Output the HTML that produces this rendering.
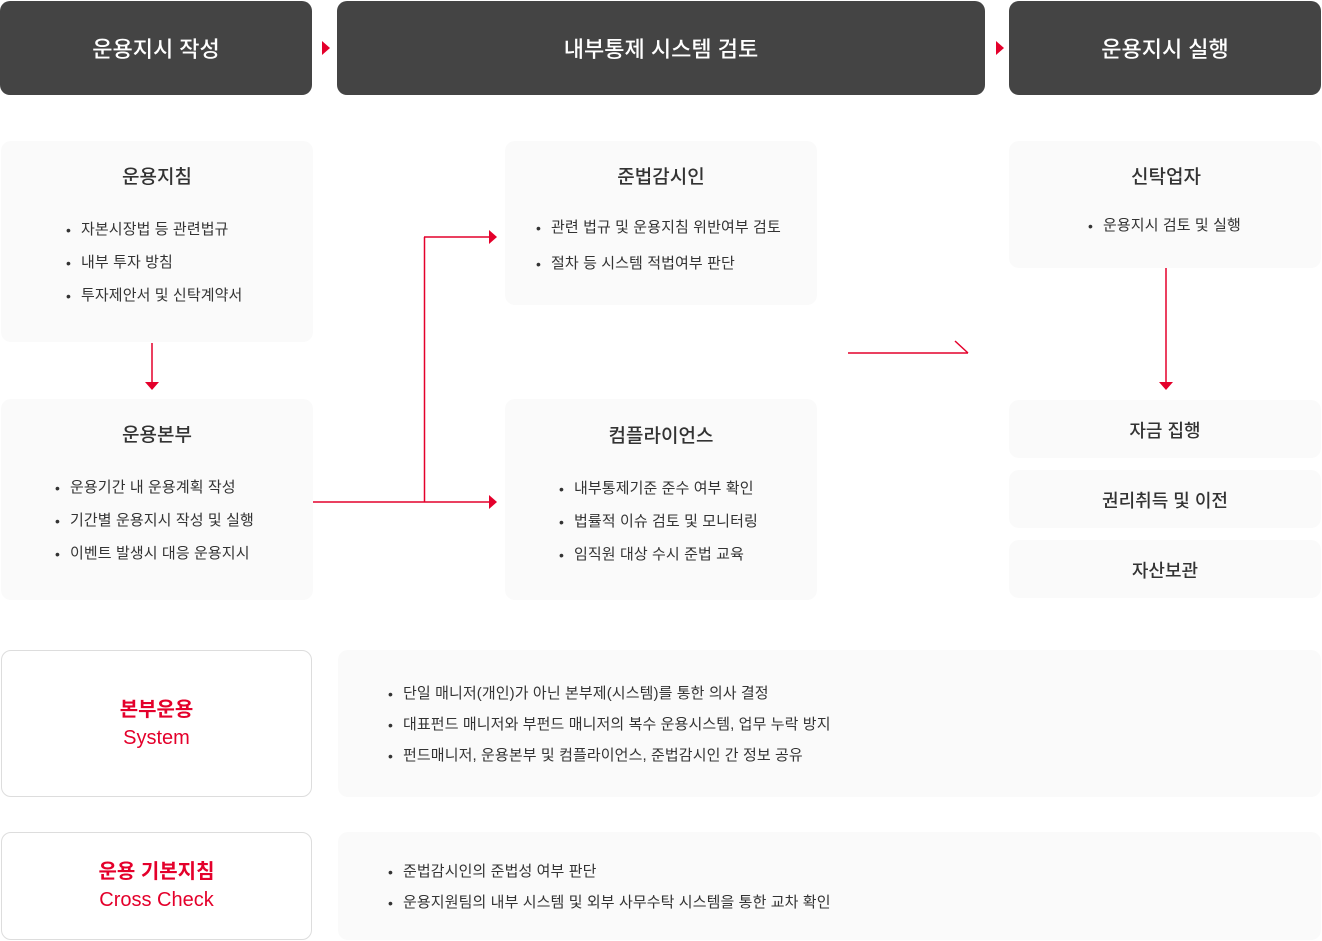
<!DOCTYPE html>
<html><head><meta charset="utf-8"><style>
*{margin:0;padding:0;box-sizing:border-box}
body{width:1322px;height:941px;background:#fff;position:relative;overflow:hidden;font-family:"Liberation Sans","Noto Sans CJK KR",sans-serif;color:#333}
.a{position:absolute}
.hd{position:absolute;top:1px;height:94px;background:#444;border-radius:10px;color:#fff;font-size:22px;display:flex;align-items:center;justify-content:center;font-weight:500}
.bx{position:absolute;background:#fafafa;border-radius:10px}
.t{position:absolute;font-size:19px;font-weight:500;line-height:24px;white-space:nowrap;transform:translateX(-50%)}
.li{position:absolute;font-size:15px;line-height:20px;white-space:nowrap;letter-spacing:0.1px}
.li:before{content:"•";position:absolute;left:-15px;font-size:14px}
.wb{position:absolute;background:#fff;border:1px solid #ddd;border-radius:10px;color:#e4002b;text-align:center;font-size:20px;line-height:28px;display:flex;flex-direction:column;justify-content:center}
</style></head><body>
<div class="hd" style="left:0;width:312px">운용지시 작성</div>
<div class="hd" style="left:337px;width:648px">내부통제 시스템 검토</div>
<div class="hd" style="left:1009px;width:312px">운용지시 실행</div>
<svg class="a" style="left:0;top:0" width="1322" height="941">
<polygon points="322,41 330,48 322,55" fill="#e4002b"/>
<polygon points="996,41 1004,48 996,55" fill="#e4002b"/>
<g stroke="#e4002b" stroke-width="1.5" fill="none">
<line x1="152" y1="343" x2="152" y2="382"/>
<line x1="313" y1="502" x2="490" y2="502"/>
<line x1="424.5" y1="237" x2="424.5" y2="502"/>
<line x1="424" y1="237" x2="490" y2="237"/>
<line x1="1166" y1="268" x2="1166" y2="382"/>
<line x1="848" y1="353" x2="968" y2="353"/>
<line x1="955" y1="341" x2="968" y2="353"/>
</g>
<g fill="#e4002b">
<polygon points="145,382 159,382 152,390"/>
<polygon points="1159,382 1173,382 1166,390"/>
<polygon points="489,230 497,237 489,244"/>
<polygon points="489,495 497,502 489,509"/>
</g>
</svg>
<div class="bx" style="left:1px;top:141px;width:312px;height:201px"></div>
<div class="t" style="left:157px;top:166px">운용지침</div>
<div class="li" style="left:81px;top:220px">자본시장법 등 관련법규</div>
<div class="li" style="left:81px;top:253px">내부 투자 방침</div>
<div class="li" style="left:81px;top:286px">투자제안서 및 신탁계약서</div>

<div class="bx" style="left:1px;top:399px;width:312px;height:201px"></div>
<div class="t" style="left:157px;top:424px">운용본부</div>
<div class="li" style="left:70px;top:478px">운용기간 내 운용계획 작성</div>
<div class="li" style="left:70px;top:511px">기간별 운용지시 작성 및 실행</div>
<div class="li" style="left:70px;top:544px">이벤트 발생시 대응 운용지시</div>

<div class="bx" style="left:505px;top:141px;width:312px;height:164px"></div>
<div class="t" style="left:661px;top:166px">준법감시인</div>
<div class="li" style="left:551px;top:218px">관련 법규 및 운용지침 위반여부 검토</div>
<div class="li" style="left:551px;top:254px">절차 등 시스템 적법여부 판단</div>

<div class="bx" style="left:505px;top:399px;width:312px;height:201px"></div>
<div class="t" style="left:661px;top:425px">컴플라이언스</div>
<div class="li" style="left:574px;top:479px">내부통제기준 준수 여부 확인</div>
<div class="li" style="left:574px;top:512px">법률적 이슈 검토 및 모니터링</div>
<div class="li" style="left:574px;top:545px">임직원 대상 수시 준법 교육</div>

<div class="bx" style="left:1009px;top:141px;width:312px;height:127px"></div>
<div class="t" style="left:1166px;top:166px">신탁업자</div>
<div class="li" style="left:1103px;top:216px">운용지시 검토 및 실행</div>

<div class="bx" style="left:1009px;top:400px;width:312px;height:58px"></div>
<div class="t" style="left:1165px;top:419px;font-size:18px">자금 집행</div>
<div class="bx" style="left:1009px;top:470px;width:312px;height:58px"></div>
<div class="t" style="left:1165px;top:489px;font-size:18px">권리취득 및 이전</div>
<div class="bx" style="left:1009px;top:540px;width:312px;height:58px"></div>
<div class="t" style="left:1165px;top:559px;font-size:18px">자산보관</div>

<div class="wb" style="left:1px;top:650px;width:311px;height:147px"><b>본부운용</b><span>System</span></div>
<div class="bx" style="left:338px;top:650px;width:983px;height:147px"></div>
<div class="li" style="left:403px;top:684px">단일 매니저(개인)가 아닌 본부제(시스템)를 통한 의사 결정</div>
<div class="li" style="left:403px;top:715px">대표펀드 매니저와 부펀드 매니저의 복수 운용시스템, 업무 누락 방지</div>
<div class="li" style="left:403px;top:746px">펀드매니저, 운용본부 및 컴플라이언스, 준법감시인 간 정보 공유</div>

<div class="wb" style="left:1px;top:832px;width:311px;height:108px"><b>운용 기본지침</b><span>Cross Check</span></div>
<div class="bx" style="left:338px;top:832px;width:983px;height:108px"></div>
<div class="li" style="left:403px;top:862px">준법감시인의 준법성 여부 판단</div>
<div class="li" style="left:403px;top:893px">운용지원팀의 내부 시스템 및 외부 사무수탁 시스템을 통한 교차 확인</div>
</body></html>
